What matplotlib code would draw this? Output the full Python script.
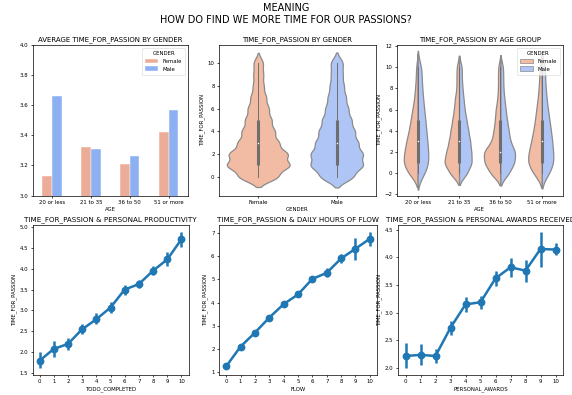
import numpy as np
import matplotlib
matplotlib.use("Agg")
import matplotlib.pyplot as plt
from matplotlib.patches import Patch

fs = 3.9      # tick / axis label size
fst = 5.0     # top row titles
fsb = 5.1     # bottom row titles

plt.rcParams['font.family'] = 'DejaVu Sans'
plt.rcParams['axes.linewidth'] = 0.5
plt.rcParams['xtick.major.width'] = 0.5
plt.rcParams['ytick.major.width'] = 0.5
plt.rcParams['xtick.major.size'] = 1.6
plt.rcParams['ytick.major.size'] = 1.6
plt.rcParams['xtick.major.pad'] = 1.6
plt.rcParams['ytick.major.pad'] = 1.6

age_groups = ["20 or less", "21 to 35", "36 to 50", "51 or more"]
genders = ["Female", "Male"]

# average TIME_FOR_PASSION per age group
mean_female = [3.13, 3.32, 3.21, 3.42]
mean_male = [3.66, 3.31, 3.26, 3.57]

# respondents per TIME_FOR_PASSION level 0..10
passion_levels = np.arange(11)
female_20 = [99, 153, 135, 117, 90, 72, 54, 36, 27, 18, 18]
male_20 = [72, 108, 99, 94, 81, 74, 62, 52, 44, 36, 42]
female_21 = [352, 576, 480, 384, 320, 256, 192, 160, 96, 96, 96]
male_21 = [310, 490, 460, 420, 350, 280, 210, 170, 130, 100, 110]
female_36 = [300, 470, 500, 250, 200, 160, 140, 90, 70, 70, 70]
male_36 = [250, 410, 440, 280, 240, 190, 150, 115, 85, 80, 80]
female_51 = [105, 175, 155, 125, 100, 80, 66, 48, 38, 28, 28]
male_51 = [90, 140, 130, 120, 105, 88, 70, 55, 45, 36, 42]

female_by_age = [female_20, female_21, female_36, female_51]
male_by_age = [male_20, male_21, male_36, male_51]

# mean TIME_FOR_PASSION with 95% CI
todo_levels = list(range(11))
todo_mean = [1.80, 2.08, 2.20, 2.55, 2.79, 3.07, 3.50, 3.63, 3.95, 4.22, 4.70]
todo_lo = [1.62, 1.88, 2.05, 2.43, 2.67, 2.95, 3.38, 3.53, 3.85, 4.07, 4.52]
todo_hi = [2.00, 2.28, 2.35, 2.68, 2.93, 3.20, 3.62, 3.73, 4.06, 4.40, 4.88]

flow_levels = list(range(11))
flow_mean = [1.25, 2.10, 2.70, 3.35, 3.93, 4.35, 5.02, 5.28, 5.90, 6.32, 6.75]
flow_lo = [1.17, 2.03, 2.63, 3.27, 3.83, 4.23, 4.90, 5.10, 5.70, 5.82, 6.45]
flow_hi = [1.33, 2.17, 2.77, 3.43, 4.03, 4.47, 5.14, 5.48, 6.10, 6.80, 7.05]

award_levels = list(range(11))
award_mean = [2.22, 2.24, 2.22, 2.73, 3.15, 3.19, 3.62, 3.82, 3.76, 4.15, 4.14]
award_lo = [2.00, 2.05, 2.10, 2.60, 3.02, 3.07, 3.48, 3.65, 3.56, 3.83, 4.05]
award_hi = [2.45, 2.43, 2.35, 2.86, 3.28, 3.30, 3.75, 3.98, 3.96, 4.46, 4.25]

bar_colors = ['#EBAD97', '#8DB0F3']
violin_colors = ['#F2BBA3', '#AFC5F5']
point_color = '#1f77b4'
edge_gray = '#8a8a8a'
box_gray = '#6e6e6e'


def kde(counts):
    counts = np.asarray(counts, float)
    n = counts.sum()
    mu = (counts * passion_levels).sum() / n
    sd = np.sqrt((counts * (passion_levels - mu) ** 2).sum() / (n - 1))
    bw = sd * n ** -0.2
    lo = passion_levels[counts > 0].min() - 2 * bw
    hi = passion_levels[counts > 0].max() + 2 * bw
    y = np.linspace(lo, hi, 300)
    k = np.exp(-0.5 * ((y[None, :] - passion_levels[:, None]) / bw) ** 2)
    dens = (counts[:, None] * k).sum(0) / (n * bw * np.sqrt(2 * np.pi))
    return y, dens


def inner_box(ax, pos, counts):
    vals = np.repeat(passion_levels, np.asarray(counts))
    q25, q50, q75 = np.percentile(vals, [25, 50, 75])
    lim = 1.5 * (q75 - q25)
    lo = vals[vals >= q25 - lim].min()
    hi = vals[vals <= q75 + lim].max()
    ax.plot([pos, pos], [lo, hi], color=box_gray, lw=0.7, zorder=3)
    ax.plot([pos, pos], [q25, q75], color=box_gray, lw=2.2, solid_capstyle='butt', zorder=3)
    ax.scatter([pos], [q50], s=1.2, color='white', zorder=4, linewidths=0)


def style(ax, title, tsize):
    ax.set_title(title, fontsize=tsize, pad=2.5)
    ax.tick_params(labelsize=fs)


fig = plt.figure(figsize=(5.72, 3.95), dpi=100)
fig.suptitle("MEANING\nHOW DO FIND WE MORE TIME FOR OUR PASSIONS?",
             fontsize=7, y=0.993, linespacing=1.25)

W, H = 572.0, 395.0


def add_axes(x0, x1, y0, y1):
    return fig.add_axes([x0 / W, 1 - y1 / H, (x1 - x0) / W, (y1 - y0) / H])


# --- average by age group and gender
ax1 = add_axes(32.5, 188, 45, 195.5)
x = np.arange(len(age_groups))
ax1.bar(x - 0.125, mean_female, width=0.25, color=bar_colors[0], label='Female',
        edgecolor='white', linewidth=0.3)
ax1.bar(x + 0.125, mean_male, width=0.25, color=bar_colors[1], label='Male',
        edgecolor='white', linewidth=0.3)
ax1.set_xticks(x)
ax1.set_xticklabels(age_groups)
ax1.set_xlim(-0.5, 3.5)
ax1.set_ylim(3.0, 4.0)
ax1.set_yticks([3.0, 3.2, 3.4, 3.6, 3.8, 4.0])
ax1.set_xlabel('AGE', fontsize=fs, labelpad=1.5)
leg = ax1.legend(title='GENDER', fontsize=fs, title_fontsize=fs, loc='upper right',
                 handlelength=2.4, handleheight=0.9, borderpad=0.6, labelspacing=0.5)
leg.get_frame().set_linewidth(0.4)
style(ax1, 'AVERAGE TIME_FOR_PASSION BY GENDER', fst)

# --- violin by gender
ax2 = add_axes(219, 376, 45, 195.5)
female_all = np.sum(female_by_age, axis=0)
male_all = np.sum(male_by_age, axis=0)
curves = [kde(female_all), kde(male_all)]
dmax = max(d.max() for _, d in curves)
for i, ((y, d), counts) in enumerate(zip(curves, [female_all, male_all])):
    half = 0.4 * d / dmax
    ax2.fill_betweenx(y, i - half, i + half, facecolor=violin_colors[i],
                      edgecolor=edge_gray, linewidth=0.9, zorder=2)
    inner_box(ax2, i, counts)
ax2.set_xticks([0, 1])
ax2.set_xticklabels(genders)
ax2.set_xlim(-0.5, 1.5)
ax2.set_ylim(-1.65, 11.6)
ax2.set_yticks([0, 2, 4, 6, 8, 10])
ax2.set_xlabel('GENDER', fontsize=fs, labelpad=1.5)
ax2.set_ylabel('TIME_FOR_PASSION', fontsize=fs, labelpad=2)
style(ax2, 'TIME_FOR_PASSION BY GENDER', fst)

# --- split violins by age group, one width scale for all halves
ax3 = add_axes(397, 562.5, 45, 195.5)
split = [(kde(f), kde(m)) for f, m in zip(female_by_age, male_by_age)]
smax = max(max(df.max(), dm.max()) for (_, df), (_, dm) in split)
for i, ((yf, df), (ym, dm)) in enumerate(split):
    ax3.fill_betweenx(yf, i - 0.4 * df / smax, i, facecolor=violin_colors[0],
                      edgecolor=edge_gray, linewidth=0.9, zorder=2)
    ax3.fill_betweenx(ym, i, i + 0.4 * dm / smax, facecolor=violin_colors[1],
                      edgecolor=edge_gray, linewidth=0.9, zorder=2)
    inner_box(ax3, i, np.add(female_by_age[i], male_by_age[i]))
ax3.set_xticks(range(len(age_groups)))
ax3.set_xticklabels(age_groups)
ax3.set_xlim(-0.5, 3.5)
ax3.set_ylim(-2.1, 12.1)
ax3.set_yticks([-2, 0, 2, 4, 6, 8, 10, 12])
ax3.set_xlabel('AGE', fontsize=fs, labelpad=1.5)
ax3.set_ylabel('TIME_FOR_PASSION', fontsize=fs, labelpad=2)
handles = [Patch(facecolor=c, edgecolor=edge_gray, linewidth=0.5, label=g)
           for c, g in zip(violin_colors, genders)]
leg = ax3.legend(handles=handles, title='GENDER', fontsize=fs, title_fontsize=fs,
                 loc='upper right', handlelength=2.4, handleheight=0.9,
                 borderpad=0.6, labelspacing=0.5)
leg.get_frame().set_linewidth(0.4)
style(ax3, 'TIME_FOR_PASSION BY AGE GROUP', fst)


# --- point plots
def pointplot(ax, levels, mean, lo, hi, xlabel, title):
    ax.vlines(levels, lo, hi, color=point_color, lw=1.8, zorder=2)
    ax.plot(levels, mean, color=point_color, lw=1.8, marker='o', ms=4.6, zorder=3)
    ax.set_xticks(levels)
    ax.set_xlim(-0.5, len(levels) - 0.5)
    ax.set_xlabel(xlabel, fontsize=fs, labelpad=1.5)
    ax.set_ylabel('TIME_FOR_PASSION', fontsize=fs, labelpad=2)
    style(ax, title, fsb)


ax4 = add_axes(32.5, 188.5, 225, 375)
pointplot(ax4, todo_levels, todo_mean, todo_lo, todo_hi, 'TODO_COMPLETED',
          'TIME_FOR_PASSION & PERSONAL PRODUCTIVITY')
ax4.set_yticks([1.5, 2.0, 2.5, 3.0, 3.5, 4.0, 4.5, 5.0])

ax5 = add_axes(219, 377, 225, 375)
pointplot(ax5, flow_levels, flow_mean, flow_lo, flow_hi, 'FLOW',
          'TIME_FOR_PASSION & DAILY HOURS OF FLOW')
ax5.set_yticks([1, 2, 3, 4, 5, 6, 7])

ax6 = add_axes(398, 563, 225, 375)
pointplot(ax6, award_levels, award_mean, award_lo, award_hi, 'PERSONAL_AWARDS',
          'TIME_FOR_PASSION & PERSONAL AWARDS RECEIVED')
ax6.set_yticks([2.0, 2.5, 3.0, 3.5, 4.0, 4.5])

fig.savefig('out.png', dpi=100)
plt.close(fig)
